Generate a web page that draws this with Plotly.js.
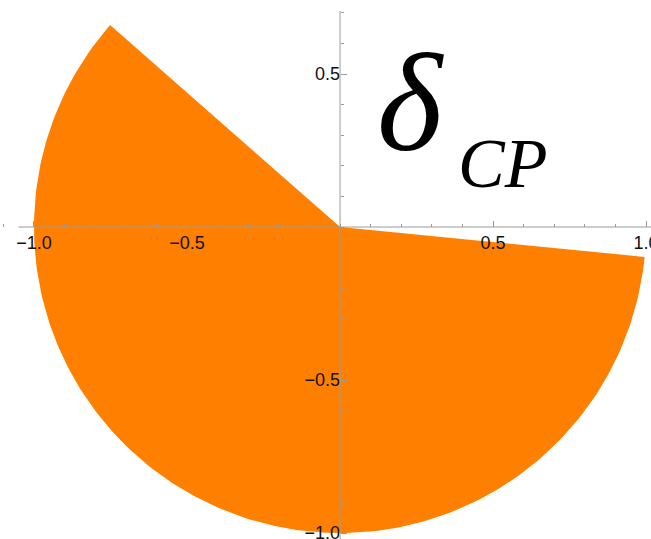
<!DOCTYPE html>
<html>
<head>
<meta charset="utf-8">
<script src="https://cdn.plot.ly/plotly-3.0.1.min.js"></script>
<style>
  html, body { margin: 0; padding: 0; background: #fff; }
  #chart { width: 651px; height: 539px; }
</style>
</head>
<body>
<div id="chart"></div>
<script>
// Allowed region of the CP phase, as a sector of the unit disk (degrees, counter-clockwise)
const sectorAngles = [138.7, 354.4];
const sectorRadius = [1.0];

// Axis ticks
const xTickVals = [-1.0, -0.5, 0.5, 1.0];
const yTickVals = [-1.0, -0.5, 0.5];

// Label drawn in the upper-right quadrant
const symbolText = ['δ', 'CP'];

// Build the sector outline: centre -> arc -> centre
const sx = [0], sy = [0];
const steps = 240;
for (let i = 0; i <= steps; i++) {
  const a = (sectorAngles[0] + (sectorAngles[1] - sectorAngles[0]) * i / steps) * Math.PI / 180;
  sx.push(sectorRadius[0] * Math.cos(a));
  sy.push(sectorRadius[0] * Math.sin(a));
}
sx.push(0); sy.push(0);

const xRange = [-1.111, 1.016];
const yRange = [-1.0196, 0.742];
const axisColor = '#9a9a9a';
const tickFont = { family: 'Liberation Sans, Arial, sans-serif', size: 18, color: '#111' };
const fmt = v => (v < 0 ? '\u2212' : '') + Math.abs(v).toFixed(1);

const trace = {
  type: 'scatter',
  mode: 'lines',
  x: sx, y: sy,
  fill: 'toself',
  fillcolor: '#ff8000',
  line: { width: 0, color: '#ff8000' },
  hoverinfo: 'skip',
  showlegend: false
};

const layout = {
  width: 651, height: 539,
  margin: { l: 0, r: 0, t: 0, b: 0, pad: 0 },
  paper_bgcolor: '#fff',
  plot_bgcolor: '#fff',
  showlegend: false,
  xaxis: {
    range: xRange,
    anchor: 'free',
    position: (0 - yRange[0]) / (yRange[1] - yRange[0]),
    showgrid: false, zeroline: false, showline: false,
    tickmode: 'array', tickvals: xTickVals, ticktext: xTickVals.map(fmt),
    ticks: 'inside', ticklen: 6, tickcolor: axisColor, tickwidth: 1,
    minor: { tickmode: 'linear', tick0: 0, dtick: 0.1, ticks: 'inside', ticklen: 3, tickcolor: axisColor, showgrid: false },
    tickfont: tickFont,
    ticklabeloverflow: 'allow',
    ticklabelstandoff: 3,
    layer: 'above traces',
    fixedrange: true
  },
  yaxis: {
    range: yRange,
    anchor: 'free',
    position: (0 - xRange[0]) / (xRange[1] - xRange[0]),
    showgrid: false, zeroline: false, showline: false,
    tickmode: 'array', tickvals: yTickVals, ticktext: yTickVals.map(fmt),
    ticks: 'inside', ticklen: 6, tickcolor: axisColor, tickwidth: 1,
    minor: { tickmode: 'linear', tick0: 0, dtick: 0.1, ticks: 'inside', ticklen: 3, tickcolor: axisColor, showgrid: false },
    tickfont: tickFont,
    ticklabeloverflow: 'allow',
    layer: 'above traces',
    fixedrange: true
  },
  shapes: [
    { type: 'line', xref: 'x', yref: 'y', x0: -1.05, x1: 1.02, y0: 0, y1: 0,
      line: { color: axisColor, width: 1 }, layer: 'above' },
    { type: 'line', xref: 'x', yref: 'y', x0: 0, x1: 0, y0: -1.03, y1: 0.706,
      line: { color: axisColor, width: 1 }, layer: 'above' }
  ],
  annotations: [
    { xref: 'paper', yref: 'paper', x: 410 / 651, y: 1 - 182 / 539,
      xanchor: 'center', yanchor: 'bottom', showarrow: false,
      text: '<i>' + symbolText[0] + '</i>',
      font: { family: 'Liberation Serif, Times New Roman, serif', size: 140, color: '#000' } },
    { xref: 'paper', yref: 'paper', x: 456 / 651, y: 1 - 204 / 539,
      xanchor: 'left', yanchor: 'bottom', showarrow: false,
      text: '<i>' + symbolText[1] + '</i>',
      font: { family: 'Liberation Serif, Times New Roman, serif', size: 70, color: '#000' } }
  ]
};

Plotly.newPlot('chart', [trace], layout, { staticPlot: true, displayModeBar: false });
</script>
</body>
</html>
